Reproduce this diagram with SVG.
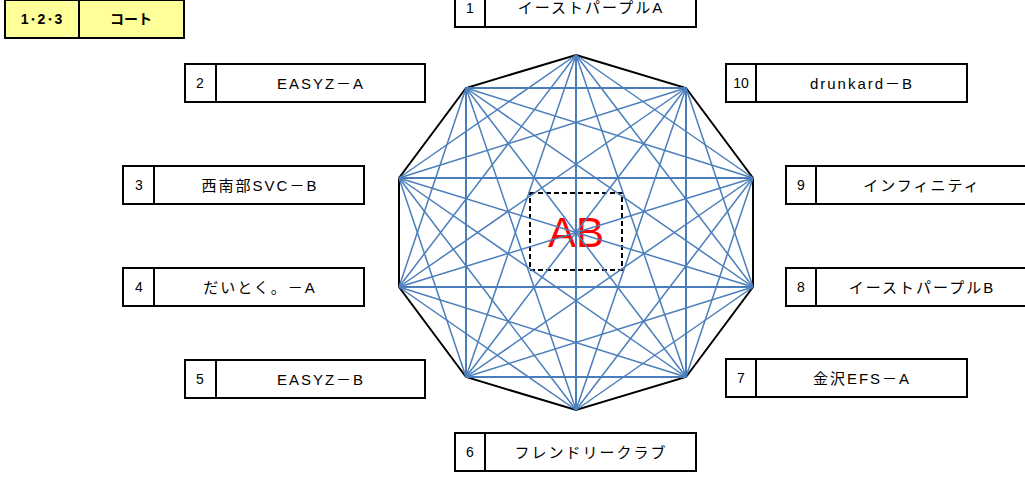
<svg xmlns="http://www.w3.org/2000/svg" width="1025" height="477" viewBox="0 0 1025 477">
<style>
.box{fill:#fff;stroke:#000;stroke-width:2}
.div{stroke:#000;stroke-width:2}
.num{font-family:"Liberation Sans","Noto Sans CJK JP",sans-serif;font-size:14px;fill:#000;text-anchor:middle}
.lbl{font-family:"Liberation Sans","Noto Sans CJK JP",sans-serif;font-size:15px;fill:#000;text-anchor:middle;letter-spacing:2px}
.hdr{font-family:"Liberation Sans","Noto Sans CJK JP",sans-serif;font-size:14px;font-weight:bold;fill:#000;text-anchor:middle}
.edge{stroke:#000;stroke-width:2;fill:none}
.diag{stroke:#4a7ebb;stroke-width:1.5}
.axis{stroke:#4a7ebb;stroke-width:2}
</style>
<rect width="1025" height="477" fill="#fff"/>
<g id="header">
<rect x="5" y="0" width="179" height="38" fill="#ffff99" stroke="#000" stroke-width="2"/>
<line x1="79" y1="0" x2="79" y2="38" class="div"/>
<text x="42" y="24" class="hdr" letter-spacing="1">1･2･3</text>
<text x="131" y="24" class="hdr">コート</text>
</g>
<g id="center">
<rect x="530" y="193" width="92" height="77" fill="none" stroke="#000" stroke-width="2" stroke-dasharray="5 3"/>
<text x="576" y="247" font-family="Liberation Sans, sans-serif" font-size="42" fill="#ff0000" text-anchor="middle">AB</text>
</g>
<g id="connectors">
<polygon class="edge" points="576,55 686,88 753,178 753,287 686,377 576,410 466,377 399,287 399,178 466,88"/>
<g class="diag">
<line x1="576" y1="55" x2="399" y2="178"/>
<line x1="576" y1="55" x2="399" y2="287"/>
<line x1="576" y1="55" x2="466" y2="377"/>
<line x1="576" y1="55" x2="686" y2="377"/>
<line x1="576" y1="55" x2="753" y2="287"/>
<line x1="576" y1="55" x2="753" y2="178"/>
<line x1="466" y1="88" x2="399" y2="287"/>
<line x1="466" y1="88" x2="576" y2="410"/>
<line x1="466" y1="88" x2="686" y2="377"/>
<line x1="466" y1="88" x2="753" y2="287"/>
<line x1="466" y1="88" x2="753" y2="178"/>
<line x1="399" y1="178" x2="466" y2="377"/>
<line x1="399" y1="178" x2="576" y2="410"/>
<line x1="399" y1="178" x2="686" y2="377"/>
<line x1="399" y1="178" x2="753" y2="287"/>
<line x1="399" y1="178" x2="686" y2="88"/>
<line x1="399" y1="287" x2="576" y2="410"/>
<line x1="399" y1="287" x2="686" y2="377"/>
<line x1="399" y1="287" x2="753" y2="178"/>
<line x1="399" y1="287" x2="686" y2="88"/>
<line x1="466" y1="377" x2="753" y2="287"/>
<line x1="466" y1="377" x2="753" y2="178"/>
<line x1="466" y1="377" x2="686" y2="88"/>
<line x1="576" y1="410" x2="753" y2="287"/>
<line x1="576" y1="410" x2="753" y2="178"/>
<line x1="576" y1="410" x2="686" y2="88"/>
<line x1="686" y1="377" x2="753" y2="178"/>
<line x1="753" y1="287" x2="686" y2="88"/>
</g>
<g class="axis">
<line x1="576" y1="55" x2="576" y2="410"/>
<line x1="466" y1="88" x2="466" y2="377"/>
<line x1="686" y1="377" x2="686" y2="88"/>
<line x1="466" y1="88" x2="686" y2="88"/>
<line x1="399" y1="178" x2="753" y2="178"/>
<line x1="399" y1="287" x2="753" y2="287"/>
<line x1="466" y1="377" x2="686" y2="377"/>
</g>
</g>
<g id="team1"><rect class="box" x="455" y="-11" width="241" height="38"/><line class="div" x1="485" y1="-11" x2="485" y2="27"/><text class="num" x="470" y="13">1</text><text class="lbl" x="591" y="13">イーストパープルA</text></g>
<g id="team2"><rect class="box" x="185" y="64" width="240" height="38"/><line class="div" x1="216" y1="64" x2="216" y2="102"/><text class="num" x="200" y="88">2</text><text class="lbl" x="321" y="89">EASYZ－A</text></g>
<g id="team3"><rect class="box" x="123" y="166" width="241" height="38"/><line class="div" x1="154" y1="166" x2="154" y2="204"/><text class="num" x="139" y="190">3</text><text class="lbl" x="260" y="191">西南部SVC－B</text></g>
<g id="team4"><rect class="box" x="123" y="268" width="241" height="38"/><line class="div" x1="154" y1="268" x2="154" y2="306"/><text class="num" x="139" y="292">4</text><text class="lbl" x="260" y="293">だいとく。－A</text></g>
<g id="team5"><rect class="box" x="185" y="360" width="240" height="38"/><line class="div" x1="216" y1="360" x2="216" y2="398"/><text class="num" x="200" y="384">5</text><text class="lbl" x="321" y="385">EASYZ－B</text></g>
<g id="team6"><rect class="box" x="455" y="433" width="241" height="38"/><line class="div" x1="485" y1="433" x2="485" y2="471"/><text class="num" x="470" y="457">6</text><text class="lbl" x="591" y="458">フレンドリークラブ</text></g>
<g id="team7"><rect class="box" x="726" y="359" width="241" height="38"/><line class="div" x1="756" y1="359" x2="756" y2="397"/><text class="num" x="741" y="383">7</text><text class="lbl" x="862" y="384">金沢EFS－A</text></g>
<g id="team8"><rect class="box" x="786" y="268" width="241" height="38"/><line class="div" x1="816" y1="268" x2="816" y2="306"/><text class="num" x="801" y="292">8</text><text class="lbl" x="922" y="293">イーストパープルB</text></g>
<g id="team9"><rect class="box" x="786" y="166" width="241" height="38"/><line class="div" x1="816" y1="166" x2="816" y2="204"/><text class="num" x="801" y="190">9</text><text class="lbl" x="922" y="191">インフィニティ</text></g>
<g id="team10"><rect class="box" x="726" y="64" width="241" height="38"/><line class="div" x1="756" y1="64" x2="756" y2="102"/><text class="num" x="741" y="88">10</text><text class="lbl" x="862" y="89">drunkard－B</text></g>
</svg>
